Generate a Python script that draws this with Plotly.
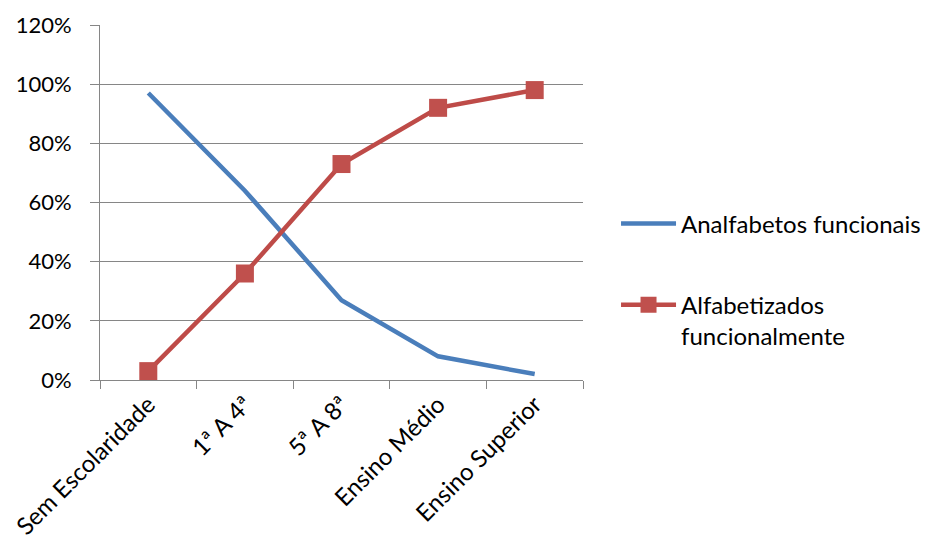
import plotly.graph_objects as go

categories = ["Sem Escolaridade", "1ª A 4ª", "5ª A 8ª", "Ensino Médio", "Ensino Superior"]
analfabetos = [0.97, 0.64, 0.27, 0.08, 0.02]
alfabetizados = [0.03, 0.36, 0.73, 0.92, 0.98]
y_ticks = [0, 0.2, 0.4, 0.6, 0.8, 1.0, 1.2]
y_labels = ["0%", "20%", "40%", "60%", "80%", "100%", "120%"]

FONT = "Lato, Calibri, 'Open Sans', sans-serif"

fig = go.Figure()
fig.add_trace(go.Scatter(
    x=categories, y=analfabetos, mode="lines", name="Analfabetos funcionais",
    line=dict(color="#4A7EBB", width=4.5), legendgroup="a",
))
fig.add_trace(go.Scatter(
    x=categories, y=alfabetizados, mode="lines+markers",
    name="Alfabetizados<br>funcionalmente",
    line=dict(color="#BE4B48", width=4.5),
    marker=dict(symbol="square", size=18, color="#C0504D"),
    legendgroup="b",
))

fig.update_layout(
    width=929, height=544,
    paper_bgcolor="white", plot_bgcolor="white",
    margin=dict(l=92, r=354, t=17, b=172),
    font=dict(family=FONT, size=24, color="#000000"),
    showlegend=True,
    legend=dict(
        x=0.6545, xanchor="left", xref="container",
        y=0.50, yanchor="middle", yref="container",
        font=dict(family=FONT, size=24), valign="top",
        tracegroupgap=47, itemwidth=55, bgcolor="rgba(0,0,0,0)",
    ),
    xaxis=dict(
        type="category", tickson="boundaries", tickangle=-45, automargin=False,
        showgrid=False, showline=True, linecolor="#868686", linewidth=1,
        ticks="outside", ticklen=8, tickcolor="#868686",
        tickfont=dict(family=FONT, size=24), range=[-0.5, 4.5],
    ),
    yaxis=dict(
        range=[0, 1.2], tickvals=y_ticks, ticktext=y_labels, automargin=False,
        showgrid=True, gridcolor="#868686", gridwidth=1,
        showline=True, linecolor="#868686", linewidth=1,
        ticks="outside", ticklen=9, tickcolor="#868686",
        tickfont=dict(family=FONT, size=22), zeroline=False,
        ticklabelstandoff=14,
    ),
)

fig.write_html("out.html")
